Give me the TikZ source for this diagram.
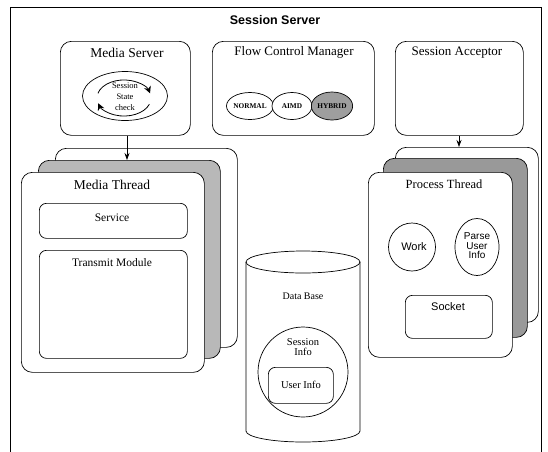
\documentclass[tikz,border=0pt]{standalone}
\usepackage{fontspec}
\setmainfont{Liberation Serif}
\newfontfamily\arialfont{Liberation Sans}
\usetikzlibrary{arrows.meta,shapes.geometric}
\begin{document}
\begin{tikzpicture}[x=1pt,y=-1pt,line width=0.7pt,
  rbox/.style={draw,fill=white,rounded corners=11pt,inner sep=0pt,anchor=north west},
  ibox/.style={rbox,rounded corners=7pt},
  layer/.style={rbox,fill=black!28},
  darklayer/.style={rbox,fill=black!40},
  oval/.style={draw,ellipse,fill=white,inner sep=0pt},
  mode/.style={oval,font=\bfseries\fontsize{7.3}{7.3}\selectfont},
  fsz/.style={font=\fontsize{#1}{#1}\selectfont},
  lbl/.style={inner sep=0pt,fsz=13},
  slbl/.style={inner sep=0pt,font=\arialfont\fontsize{#1}{#1}\selectfont},
  tip/.style={-{Stealth[length=7pt,width=5pt]}},
  looptip/.style={-{Stealth[length=7pt,width=7pt]},line width=0.8pt},
]
\useasboundingbox (0,0) rectangle (548,451);

% outer server frame (open towards the bottom of the page)
\node[draw,line width=0.9pt,inner sep=0pt,minimum width=531pt,minimum height=470pt,anchor=north west] (srv) at (10,7) {};
\node[inner sep=0pt,font=\arialfont\bfseries\fontsize{12.5}{12.5}\selectfont] (srvtitle) at (275,20) {Session Server};

% ---- top row -------------------------------------------------------
\node[rbox,minimum width=130pt,minimum height=94pt] (ms) at (60,41) {};
\node[lbl,fsz=13.5] (mstitle) at (127,53) {Media Server};
\node[oval,minimum width=85pt,minimum height=49pt] (loop) at (125,96) {};
\coordinate (lc) at (124,98);
\draw[looptip] (lc) ++(-26.1,-4.7) arc[start angle=165,end angle=15,x radius=27pt,y radius=18pt];
\draw[looptip] (lc) ++(25.4,6.2) arc[start angle=-20,end angle=-163,x radius=27pt,y radius=18pt];
\node[inner sep=0pt,fsz=8.5] (lt1) at (125,86) {Session};
\node[inner sep=0pt,fsz=8.5] (lt2) at (125,97) {State};
\node[inner sep=0pt,fsz=8.5] (lt3) at (125,108) {check};

\node[rbox,minimum width=162pt,minimum height=94pt] (fcm) at (212,41) {};
\node[lbl] (fcmtitle) at (294,52) {Flow Control Manager};
\node[mode,minimum width=44pt,minimum height=27pt] (normal) at (250,106) {NORMAL};
\node[mode,minimum width=40pt,minimum height=27pt] (aimd) at (292,106) {AIMD};
\node[mode,fill=black!38,minimum width=40pt,minimum height=28pt] (hybrid) at (332,106) {HYBRID};

\node[rbox,minimum width=128pt,minimum height=94pt] (sa) at (395,41) {};
\node[lbl] (satitle) at (457,53) {Session Acceptor};

% ---- media thread stack --------------------------------------------
\node[rbox,minimum width=182pt,minimum height=199pt] (mtback) at (55,148) {};
\node[layer,minimum width=182pt,minimum height=198pt] (mtmid) at (38,160) {};
\node[rbox,minimum width=183pt,minimum height=200pt] (mt) at (21,172) {};
\node[lbl,fsz=13.5] (mttitle) at (112,185) {Media Thread};
\node[ibox,minimum width=148pt,minimum height=35pt] (svc) at (39,203) {};
\node[lbl,fsz=11.5] (svctxt) at (112,218) {Service};
\node[ibox,minimum width=148pt,minimum height=108pt] (tx) at (39,250) {};
\node[lbl,fsz=11.5] (txtxt) at (112,263) {Transmit Module};

\draw[tip] (ms.south -| 127,0) -- (mtmid.north -| 127,0);

% ---- process thread stack ------------------------------------------
\node[rbox,minimum width=143pt,minimum height=175pt] (ptback) at (395,147) {};
\node[darklayer,minimum width=144pt,minimum height=179pt] (ptmid) at (383,158) {};
\node[rbox,minimum width=144pt,minimum height=185pt] (pt) at (368,172) {};
\node[lbl,fsz=12.5] (pttitle) at (444,184) {Process Thread};
\node[oval,minimum width=47pt,minimum height=48pt] (work) at (412,247) {};
\node[slbl=11] (worktxt) at (414,247) {Work};
\node[oval,minimum width=44pt,minimum height=57pt] (parse) at (477,247) {};
\node[slbl=10,align=center] (parsetxt) at (477,246) {Parse\\[-0.5pt]User\\[-0.5pt]Info};
\node[ibox,minimum width=87pt,minimum height=43pt] (sock) at (405,295) {};
\node[slbl=11] (socktxt) at (448,307) {Socket};

\draw[tip] (sa.south -| 459,0) -- (ptback.north -| 459,0);

% ---- data base cylinder --------------------------------------------
\coordinate (db) at (303,346);
\draw[fill=white] (246,262) -- (246,431) arc[start angle=180,end angle=360,x radius=57pt,y radius=11pt]
  -- (360,262) arc[start angle=0,end angle=180,x radius=57pt,y radius=11pt] -- cycle;
\draw (246,262) arc[start angle=180,end angle=360,x radius=57pt,y radius=11pt];
\node[lbl,fsz=10] (dbtxt) at (303,296) {Data Base};
\node[draw,circle,minimum size=90pt,inner sep=0pt] (sinfo) at (303,372) {};
\node[inner sep=0pt,fsz=10.5,align=center] (sinfotxt) at (303,347) {Session\\[-1pt]Info};
\node[ibox,minimum width=65pt,minimum height=36pt] (uinfo) at (268,367) {};
\node[lbl,fsz=10.5] (uinfotxt) at (301,385) {User Info};
\end{tikzpicture}
\end{document}
